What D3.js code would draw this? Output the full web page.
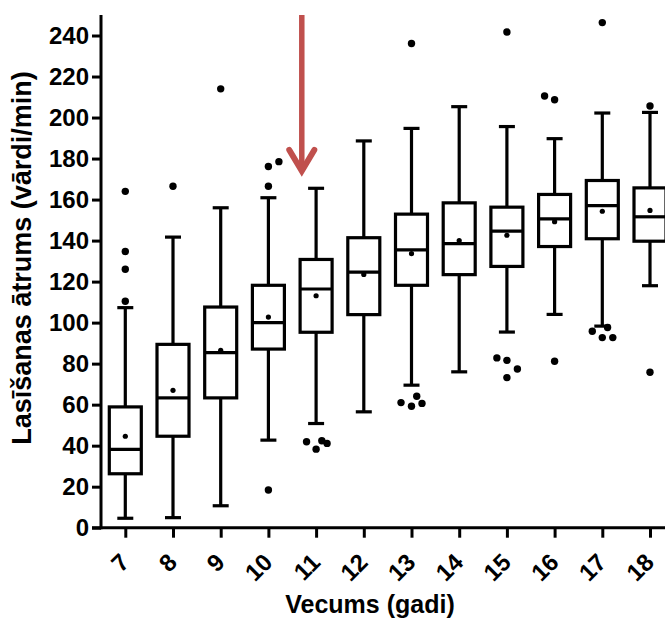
<!DOCTYPE html>
<html>
<head>
<meta charset="utf-8">
<script src="https://cdn.jsdelivr.net/npm/d3@7"></script>
<style>
  html, body { margin: 0; padding: 0; background: #fff; }
  svg { display: block; }
  text { font-family: "Liberation Sans", Arial, Helvetica, sans-serif; font-weight: bold; fill: #000; }
</style>
</head>
<body>
<svg id="chart" width="665" height="619"></svg>
<script>
// ---- data ----
const ages        = [7, 8, 9, 10, 11, 12, 13, 14, 15, 16, 17, 18];
const whiskerLow  = [4.6, 4.9, 10.7, 42.7, 50.8, 56.5, 69.5, 76.0, 95.4, 104.0, 98.3, 118.0];
const q1          = [26.3, 44.6, 63.3, 87.1, 95.3, 103.9, 118.2, 123.4, 127.4, 137.1, 140.9, 139.7];
const medians     = [38.2, 63.3, 85.4, 100.0, 116.4, 124.6, 135.5, 138.5, 144.6, 150.6, 157.0, 151.6];
const q3          = [58.9, 89.4, 107.6, 118.2, 130.8, 141.4, 152.9, 158.4, 156.3, 162.5, 169.3, 165.7];
const whiskerHigh = [107.3, 141.7, 156.0, 160.9, 165.5, 188.6, 194.7, 205.3, 195.6, 189.7, 202.2, 202.5];
const means       = [44.6, 67.0, 86.5, 102.7, 113.1, 123.5, 133.6, 140.0, 142.6, 149.2, 154.3, 154.7];
// outliers: [age, value, horizontal jitter in age units]
const outliers = [
  [7, 110.4, 0], [7, 126.0, 0], [7, 134.7, 0], [7, 164.0, 0],
  [8, 166.5, 0],
  [9, 214.0, 0],
  [10, 18.4, 0], [10, 166.5, 0], [10, 176.1, 0], [10, 178.5, 0.22],
  [11, 41.9, -0.2], [11, 38.3, 0], [11, 42.4, 0.12], [11, 41.1, 0.23],
  [13, 236.1, 0], [13, 61.0, -0.22], [13, 59.2, 0], [13, 64.1, 0.11], [13, 60.6, 0.22],
  [15, 241.7, 0], [15, 82.8, -0.21], [15, 81.6, 0], [15, 77.4, 0.22], [15, 73.2, 0],
  [16, 210.5, -0.21], [16, 208.7, 0], [16, 81.2, 0],
  [17, 246.3, 0], [17, 95.8, -0.21], [17, 97.6, 0.11], [17, 92.7, 0], [17, 92.7, 0.22],
  [18, 205.6, 0], [18, 75.8, 0]
];
const yTicks = [0, 20, 40, 60, 80, 100, 120, 140, 160, 180, 200, 220, 240];
const yTitle = "Lasīšanas ātrums (vārdi/min)";
const xTitle = "Vecums (gadi)";
// annotation arrow: [age position, top value, tip value]
const arrowAt = [10.7, 250, 173];

// ---- chart ----
const svg = d3.select("#chart");
const x = d3.scaleLinear().domain([7, 18]).range([125.3, 650]);
const y = d3.scaleLinear().domain([0, 250]).range([527.7, 15]);
const boxW = 32, capW = 16, sw = 3.2;

// boxes
const data = ages.map((a, i) => ({age: a, lo: whiskerLow[i], q1: q1[i], med: medians[i], q3: q3[i], hi: whiskerHigh[i], mean: means[i]}));
const g = svg.append("g");
const bx = g.selectAll("g.box").data(data).join("g").attr("class", "box");

bx.append("line") // lower whisker
  .attr("x1", d => x(d.age)).attr("x2", d => x(d.age))
  .attr("y1", d => y(d.q1)).attr("y2", d => y(d.lo))
  .attr("stroke", "#000").attr("stroke-width", sw);
bx.append("line") // upper whisker
  .attr("x1", d => x(d.age)).attr("x2", d => x(d.age))
  .attr("y1", d => y(d.q3)).attr("y2", d => y(d.hi))
  .attr("stroke", "#000").attr("stroke-width", sw);
bx.append("line") // low cap
  .attr("x1", d => x(d.age) - capW / 2).attr("x2", d => x(d.age) + capW / 2)
  .attr("y1", d => y(d.lo)).attr("y2", d => y(d.lo))
  .attr("stroke", "#000").attr("stroke-width", sw);
bx.append("line") // high cap
  .attr("x1", d => x(d.age) - capW / 2).attr("x2", d => x(d.age) + capW / 2)
  .attr("y1", d => y(d.hi)).attr("y2", d => y(d.hi))
  .attr("stroke", "#000").attr("stroke-width", sw);
bx.append("rect")
  .attr("x", d => x(d.age) - boxW / 2).attr("width", boxW)
  .attr("y", d => y(d.q3)).attr("height", d => y(d.q1) - y(d.q3))
  .attr("fill", "#fff").attr("stroke", "#000").attr("stroke-width", sw);
bx.append("line") // median
  .attr("x1", d => x(d.age) - boxW / 2).attr("x2", d => x(d.age) + boxW / 2)
  .attr("y1", d => y(d.med)).attr("y2", d => y(d.med))
  .attr("stroke", "#000").attr("stroke-width", sw);
bx.append("circle") // mean
  .attr("cx", d => x(d.age)).attr("cy", d => y(d.mean)).attr("r", 2.6).attr("fill", "#000");

// outliers
g.selectAll("circle.out").data(outliers).join("circle").attr("class", "out")
  .attr("cx", d => x(d[0] + d[2])).attr("cy", d => y(d[1])).attr("r", 3.7).attr("fill", "#000");

// y axis
const yAxis = d3.axisLeft(y).tickValues(yTicks).tickSize(9).tickPadding(3).tickSizeOuter(0);
const ya = svg.append("g").attr("transform", "translate(101,0)").call(yAxis);
ya.select(".domain").remove();
ya.selectAll(".tick line").attr("stroke", "#000").attr("stroke-width", 3);
ya.selectAll(".tick text").style("font-size", "24px").style("font-weight", "bold")
  .style("font-family", '"Liberation Sans", Arial, sans-serif').attr("fill", "#000");
svg.append("line").attr("x1", 101).attr("x2", 101).attr("y1", y(250)).attr("y2", y(0) + 1.5)
  .attr("stroke", "#000").attr("stroke-width", 3);

// x axis
const xAxis = d3.axisBottom(x).tickValues(ages).tickSize(10).tickFormat(d3.format("d")).tickSizeOuter(0);
const xa = svg.append("g").attr("transform", `translate(0,${y(0)})`).call(xAxis);
xa.select(".domain").remove();
xa.selectAll(".tick line").attr("stroke", "#000").attr("stroke-width", 3);
xa.selectAll(".tick text")
  .style("font-size", "24px").style("font-weight", "bold")
  .style("font-family", '"Liberation Sans", Arial, sans-serif').attr("fill", "#000")
  .attr("text-anchor", "end").attr("y", 0).attr("dy", 0)
  .attr("transform", "translate(5,36) rotate(-45)");
svg.append("line").attr("x1", 92).attr("x2", 665).attr("y1", y(0)).attr("y2", y(0))
  .attr("stroke", "#000").attr("stroke-width", 3);

// titles
svg.append("text").attr("transform", "translate(31,258) rotate(-90)")
  .attr("text-anchor", "middle").style("font-size", "27px").text(yTitle);
svg.append("text").attr("x", 370).attr("y", 613)
  .attr("text-anchor", "middle").style("font-size", "25px").text(xTitle);

// red arrow annotation
const ax = x(arrowAt[0]), aTop = y(arrowAt[1]), aTip = y(arrowAt[2]);
svg.append("line").attr("x1", ax).attr("x2", ax).attr("y1", aTop).attr("y2", aTip - 4)
  .attr("stroke", "#C0504D").attr("stroke-width", 5.5);
svg.append("path")
  .attr("d", `M${ax - 12.5},${aTip - 23} L${ax},${aTip - 2} L${ax + 12.5},${aTip - 23}`)
  .attr("fill", "none").attr("stroke", "#C0504D").attr("stroke-width", 6)
  .attr("stroke-linecap", "round").attr("stroke-linejoin", "miter");
</script>
</body>
</html>
